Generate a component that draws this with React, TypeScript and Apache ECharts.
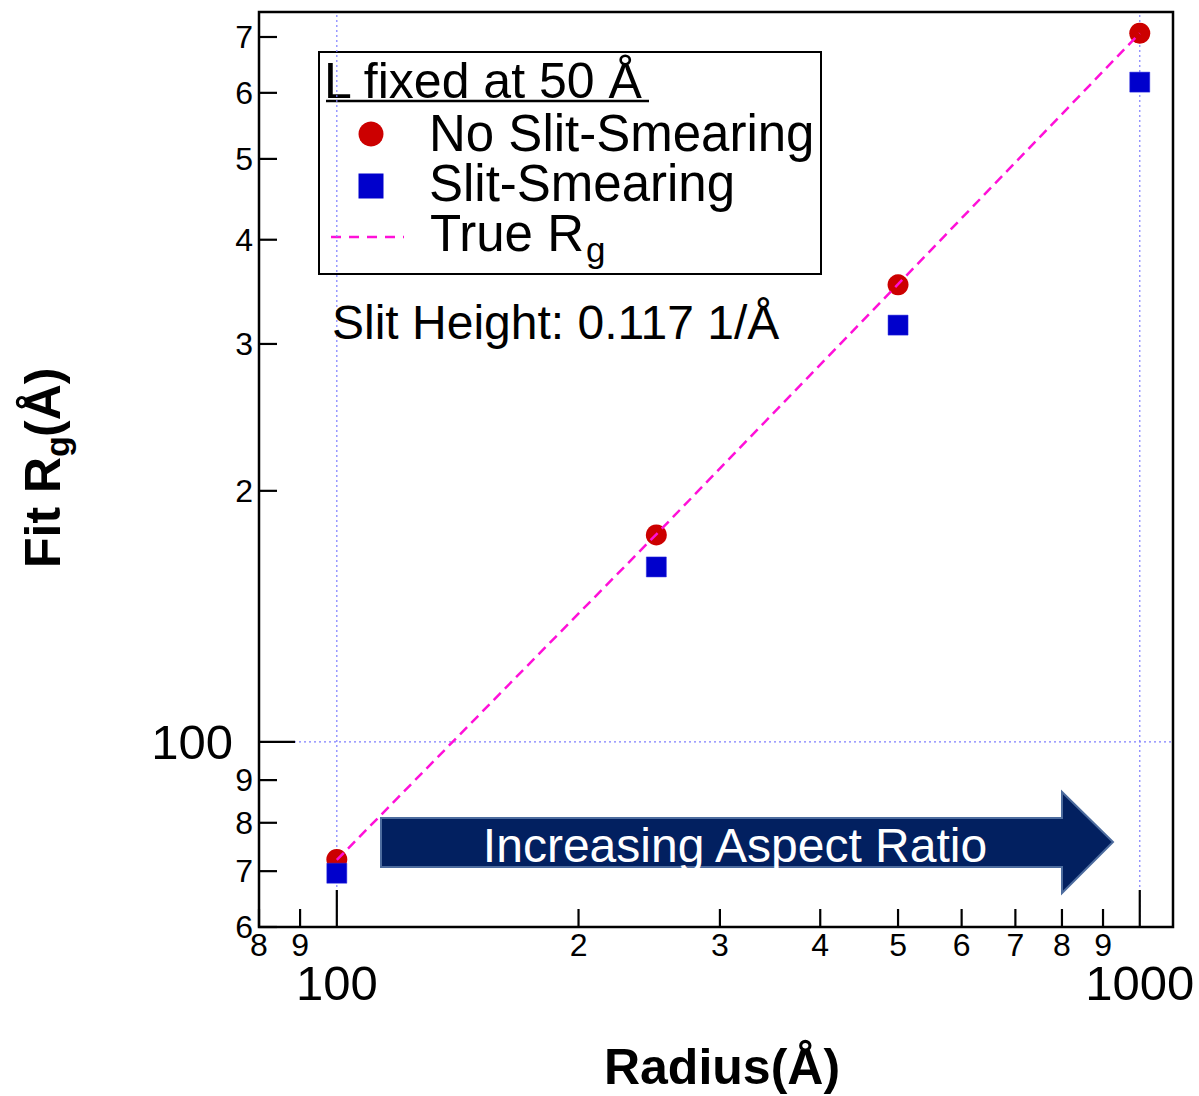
import React, { useEffect, useRef } from 'react';
import * as echarts from 'echarts';

// Fitted radius of gyration vs. cylinder radius (log-log)
const radius = [100, 250, 500, 1000];
const rgNoSmear = [72.3, 177.1, 353.2, 707.4];
const rgSmear = [69.6, 162.1, 316, 618];
const rgTrue = [72.2, 177.4, 353.8, 707.2];

// Axis ranges and tick positions
const xRange = [80, 1100];
const yRange = [60, 750];
const xTicks = [80, 90, 100, 200, 300, 400, 500, 600, 700, 800, 900, 1000];
const yTicks = [60, 70, 80, 90, 100, 200, 300, 400, 500, 600, 700];
const xDecades = [100, 1000];
const yDecades = [100];

const FONT = '"Liberation Sans", Arial, Helvetica, sans-serif';

const isDecade = (v: number) => Math.abs(Math.log10(v) - Math.round(Math.log10(v))) < 1e-9;
const tickText = (v: number) =>
  isDecade(v) ? String(v) : String(Math.round(v / Math.pow(10, Math.floor(Math.log10(v)))));

export default function App() {
  const ref = useRef<HTMLDivElement>(null);

  useEffect(() => {
    if (!ref.current) return;
    const chart = echarts.init(ref.current, undefined, { renderer: 'svg' });

    const option: any = {
      animation: false,
      backgroundColor: '#ffffff',
      grid: {
        left: 259,
        top: 12,
        width: 914,
        height: 915,
        show: true,
        borderColor: '#000',
        borderWidth: 2.5,
        backgroundColor: 'transparent',
      },
      xAxis: {
        type: 'log',
        logBase: 10,
        min: xRange[0],
        max: xRange[1],
        axisLine: { show: false },
        axisTick: { show: false },
        axisLabel: { show: false },
        splitLine: { show: false },
      },
      yAxis: {
        type: 'log',
        logBase: 10,
        min: yRange[0],
        max: yRange[1],
        axisLine: { show: false },
        axisTick: { show: false },
        axisLabel: { show: false },
        splitLine: { show: false },
      },
      series: [
        // dotted decade grid lines
        {
          type: 'custom',
          name: 'xGrid',
          silent: true,
          z: 1,
          data: xDecades.map((v) => [v, yRange[0]]),
          renderItem: (_p: any, api: any) => {
            const v = api.value(0);
            const a = api.coord([v, yRange[0]]);
            const b = api.coord([v, yRange[1]]);
            return {
              type: 'line',
              shape: { x1: a[0], y1: a[1], x2: b[0], y2: b[1] },
              style: { stroke: '#7f7fff', lineWidth: 1.2, lineDash: [2, 3] },
            };
          },
        },
        {
          type: 'custom',
          name: 'yGrid',
          silent: true,
          z: 1,
          data: yDecades.map((v) => [xRange[0], v]),
          renderItem: (_p: any, api: any) => {
            const v = api.value(1);
            const a = api.coord([xRange[0], v]);
            const b = api.coord([xRange[1], v]);
            return {
              type: 'line',
              shape: { x1: a[0], y1: a[1], x2: b[0], y2: b[1] },
              style: { stroke: '#7f7fff', lineWidth: 1.2, lineDash: [2, 3] },
            };
          },
        },
        {
          type: 'scatter',
          name: 'No Slit-Smearing',
          z: 3,
          symbol: 'circle',
          symbolSize: 21,
          itemStyle: { color: '#cc0000', opacity: 1 },
          data: radius.map((r, i) => [r, rgNoSmear[i]]),
        },
        {
          type: 'scatter',
          name: 'Slit-Smearing',
          z: 4,
          symbol: 'rect',
          symbolSize: 20,
          itemStyle: { color: '#0000cc', opacity: 1, borderColor: '#2a2ae0', borderWidth: 0.5 },
          data: radius.map((r, i) => [r, rgSmear[i]]),
        },
        {
          type: 'line',
          name: 'True Rg',
          z: 5,
          showSymbol: false,
          symbol: 'none',
          lineStyle: { color: '#ff10d8', width: 2.5, type: [10, 6] },
          data: radius.map((r, i) => [r, rgTrue[i]]),
        },
        // x ticks (inside) and labels
        {
          type: 'custom',
          name: 'xTicks',
          silent: true,
          clip: false,
          z: 6,
          data: xTicks.map((v) => [v, yRange[0]]),
          renderItem: (_p: any, api: any) => {
            const v = api.value(0);
            const p = api.coord([v, yRange[0]]);
            const major = isDecade(v);
            return {
              type: 'group',
              children: [
                {
                  type: 'line',
                  shape: { x1: p[0], y1: p[1], x2: p[0], y2: p[1] - (major ? 37 : 18) },
                  style: { stroke: '#000', lineWidth: 2.2 },
                },
                {
                  type: 'text',
                  x: p[0],
                  y: p[1] + (major ? 56 : 18),
                  style: {
                    text: tickText(v),
                    fontSize: major ? 49 : 32,
                    fontFamily: FONT,
                    fill: '#000',
                    align: 'center',
                    verticalAlign: 'middle',
                  },
                },
              ],
            };
          },
        },
        // y ticks (inside) and labels
        {
          type: 'custom',
          name: 'yTicks',
          silent: true,
          clip: false,
          z: 6,
          data: yTicks.map((v) => [xRange[0], v]),
          renderItem: (_p: any, api: any) => {
            const v = api.value(1);
            const p = api.coord([xRange[0], v]);
            const major = isDecade(v);
            return {
              type: 'group',
              children: [
                {
                  type: 'line',
                  shape: { x1: p[0], y1: p[1], x2: p[0] + (major ? 36 : 18), y2: p[1] },
                  style: { stroke: '#000', lineWidth: 2.2 },
                },
                {
                  type: 'text',
                  x: p[0] - (major ? 26 : 6),
                  y: p[1],
                  style: {
                    text: tickText(v),
                    fontSize: major ? 49 : 32,
                    fontFamily: FONT,
                    fill: '#000',
                    align: 'right',
                    verticalAlign: 'middle',
                  },
                },
              ],
            };
          },
        },
      ],
      graphic: [
        // legend box
        {
          type: 'group',
          z: 100,
          children: [
            {
              type: 'rect',
              shape: { x: 319, y: 52, width: 502, height: 222 },
              style: { fill: '#fff', stroke: '#000', lineWidth: 2 },
            },
            {
              type: 'text',
              x: 324,
              y: 81,
              style: { text: 'L fixed at 50 Å', fontSize: 50, fontFamily: FONT, fill: '#000', align: 'left', verticalAlign: 'middle' },
            },
            {
              type: 'line',
              shape: { x1: 326, y1: 101, x2: 649, y2: 101 },
              style: { stroke: '#000', lineWidth: 2.5 },
            },
            {
              type: 'circle',
              shape: { cx: 371, cy: 134, r: 12.5 },
              style: { fill: '#cc0000' },
            },
            {
              type: 'text',
              x: 429,
              y: 133,
              style: { text: 'No Slit-Smearing', fontSize: 51, fontFamily: FONT, fill: '#000', align: 'left', verticalAlign: 'middle' },
            },
            {
              type: 'rect',
              shape: { x: 358.5, y: 173.5, width: 25, height: 25 },
              style: { fill: '#0000cc' },
            },
            {
              type: 'text',
              x: 429,
              y: 183,
              style: { text: 'Slit-Smearing', fontSize: 51, fontFamily: FONT, fill: '#000', align: 'left', verticalAlign: 'middle' },
            },
            {
              type: 'line',
              shape: { x1: 331, y1: 237, x2: 404, y2: 237 },
              style: { stroke: '#ff10d8', lineWidth: 2.5, lineDash: [10, 8] },
            },
            {
              type: 'text',
              x: 430,
              y: 233,
              style: { text: 'True R', fontSize: 51, fontFamily: FONT, fill: '#000', align: 'left', verticalAlign: 'middle' },
            },
            {
              type: 'text',
              x: 586,
              y: 249,
              style: { text: 'g', fontSize: 35, fontFamily: FONT, fill: '#000', align: 'left', verticalAlign: 'middle' },
            },
          ],
        },
        {
          type: 'text',
          z: 100,
          x: 332,
          y: 322,
          style: { text: 'Slit Height: 0.117 1/Å', fontSize: 48, fontFamily: FONT, fill: '#000', align: 'left', verticalAlign: 'middle' },
        },
        // arrow annotation
        {
          type: 'group',
          z: 100,
          children: [
            {
              type: 'polygon',
              shape: {
                points: [
                  [381, 818],
                  [1062, 818],
                  [1062, 792],
                  [1113, 842],
                  [1062, 893],
                  [1062, 867],
                  [381, 867],
                ],
              },
              style: { fill: '#022060', stroke: '#4d6c9e', lineWidth: 2 },
            },
            {
              type: 'text',
              x: 735,
              y: 845,
              style: { text: 'Increasing Aspect Ratio', fontSize: 48, fontFamily: FONT, fill: '#fff', align: 'center', verticalAlign: 'middle' },
            },
          ],
        },
        // axis titles
        {
          type: 'text',
          z: 100,
          x: 722,
          y: 1067,
          style: { text: 'Radius(Å)', fontSize: 50, fontWeight: 'bold', fontFamily: FONT, fill: '#000', align: 'center', verticalAlign: 'middle' },
        },
        {
          type: 'group',
          z: 100,
          x: 43,
          y: 568,
          rotation: Math.PI / 2,
          children: [
            {
              type: 'text',
              x: 0,
              y: 0,
              style: { text: 'Fit R', fontSize: 50, fontWeight: 'bold', fontFamily: FONT, fill: '#000', align: 'left', verticalAlign: 'middle' },
            },
            {
              type: 'text',
              x: 111,
              y: 14,
              style: { text: 'g', fontSize: 34, fontWeight: 'bold', fontFamily: FONT, fill: '#000', align: 'left', verticalAlign: 'middle' },
            },
            {
              type: 'text',
              x: 131,
              y: 0,
              style: { text: '(Å)', fontSize: 50, fontWeight: 'bold', fontFamily: FONT, fill: '#000', align: 'left', verticalAlign: 'middle' },
            },
          ],
        },
      ],
    };

    chart.setOption(option);
    return () => {
      chart.dispose();
    };
  }, []);

  return (
    <div
      ref={ref}
      style={{ position: 'fixed', left: 0, top: 0, width: 1199, height: 1096, background: '#fff' }}
    />
  );
}
